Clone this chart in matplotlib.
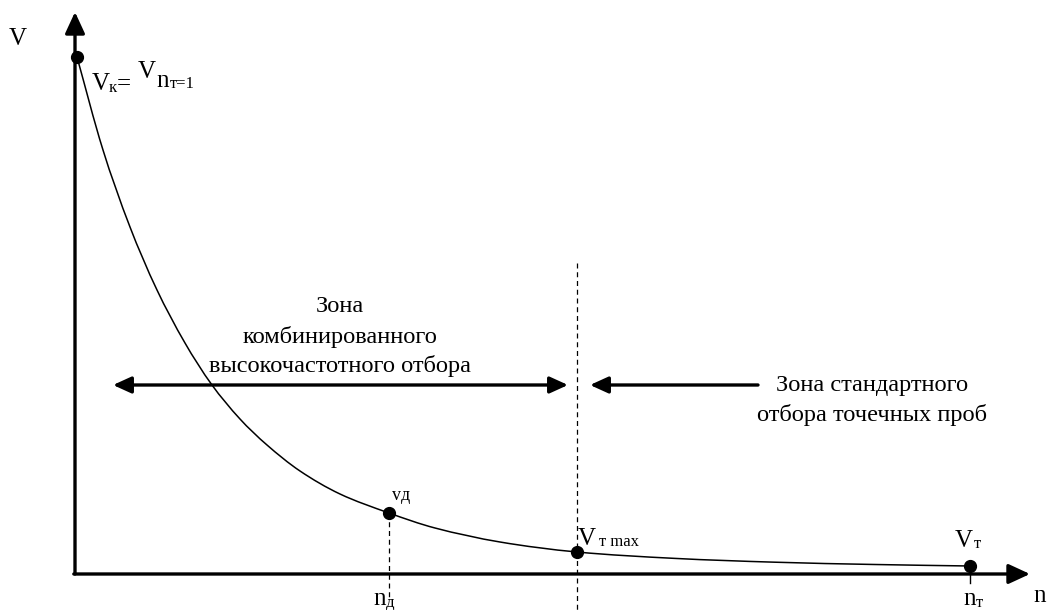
import matplotlib
matplotlib.use("Agg")
import matplotlib.pyplot as plt
from matplotlib.patches import FancyArrowPatch, PathPatch
from matplotlib.path import Path
import numpy as np

# ---- data (chart units: n along x, V along y) ----
curve_n = [2, 28, 55, 82, 110, 137, 165, 192, 225, 265, 314, 360, 425, 502, 600, 700, 800, 895]
curve_V = [517, 424, 347, 284, 231, 189, 155, 129, 103, 80, 61, 46, 32, 22, 15.6, 11.8, 9.5, 8]
point_n = [2, 314, 502, 895]
point_V = [517, 61, 22, 8]
n_d = 314      # n_д
n_tmax = 502   # boundary of zones
n_t = 895      # n_т

plt.rcParams['font.family'] = ['Liberation Serif', 'DejaVu Serif']

fig = plt.figure(figsize=(10.48, 6.10), dpi=100)
ax = fig.add_axes([0, 0, 1, 1])
ax.set_xlim(-75, 973)
ax.set_ylim(-36, 574)
ax.axis('off')

def P(x, y):
    return (x - 75, 574 - y)

# smooth curve through the read points (cubic Bezier segments)
pts = np.column_stack([curve_n, curve_V]).astype(float)
m = len(pts)
tang = []
for i in range(m):
    a = pts[max(i - 1, 0)]
    b = pts[min(i + 1, m - 1)]
    d = b - a
    tang.append(d / np.hypot(*d))
verts = [tuple(pts[0])]
codes = [Path.MOVETO]
for i in range(m - 1):
    p1, p2 = pts[i], pts[i + 1]
    L = np.hypot(*(p2 - p1)) / 3.0
    verts += [tuple(p1 + tang[i] * L), tuple(p2 - tang[i + 1] * L), tuple(p2)]
    codes += [Path.CURVE4] * 3
ax.add_patch(PathPatch(Path(verts, codes), fill=False, lw=1.1, color='black', zorder=3))

# axes with arrows
ax.add_patch(FancyArrowPatch((0, 0), (0, 562), arrowstyle='-|>,head_length=13,head_width=6',
                             mutation_scale=1, lw=2.4, color='black', shrinkA=0, shrinkB=0, zorder=4))
ax.add_patch(FancyArrowPatch((-1.2, 0), (955, 0), arrowstyle='-|>,head_length=13,head_width=6',
                             mutation_scale=1, lw=2.4, color='black', shrinkA=0, shrinkB=0, zorder=4))

# dashed guide lines
ax.plot([n_tmax, n_tmax], [311, -36], color='black', lw=0.9, dashes=(4, 3), zorder=2)
ax.plot([n_d, n_d], [point_V[1], -26], color='black', lw=0.9, dashes=(4, 3), zorder=2)
ax.plot([n_t, n_t], [0, -9], color='black', lw=1.0, zorder=2)

# points
ax.plot(point_n, point_V, 'o', color='black', markersize=8.5, zorder=5)

# zone arrows
ax.add_patch(FancyArrowPatch((38, 189), (493, 189), arrowstyle='<|-|>,head_length=11,head_width=5',
                             mutation_scale=1, lw=2.4, color='black', shrinkA=0, shrinkB=0, zorder=4))
ax.add_patch(FancyArrowPatch((683, 189), (515, 189), arrowstyle='-|>,head_length=11,head_width=5',
                             mutation_scale=1, lw=2.4, color='black', shrinkA=0, shrinkB=0, zorder=4))

fs = 18
fz = 17.6
# texts
ax.text(*P(9, 45), 'V', fontsize=fs, ha='left', va='baseline')
ax.text(*P(1033, 602), 'n', fontsize=fs, ha='left', va='baseline')

ax.text(*P(340, 306), 'Зона', fontsize=fz, ha='center', va='center')
ax.text(*P(340, 337), 'комбинированного', fontsize=fz, ha='center', va='center')
ax.text(*P(340, 366), 'высокочастотного отбора', fontsize=fz, ha='center', va='center')
ax.text(*P(872, 386), 'Зона стандартного', fontsize=fz, ha='center', va='center')
ax.text(*P(872, 415), 'отбора точечных проб', fontsize=fz, ha='center', va='center')

# V_k = V_{n_{т=1}}
ax.text(*P(92, 90), 'V', fontsize=fs, ha='left', va='baseline')
ax.text(*P(109, 92), 'к', fontsize=12, ha='left', va='baseline')
ax.text(*P(117, 90), '=', fontsize=fs, ha='left', va='baseline')
ax.text(*P(138, 78), 'V', fontsize=fs, ha='left', va='baseline')
ax.text(*P(156, 87), 'n', fontsize=fs, ha='left', va='baseline')
ax.text(*P(170, 88), 'т=1', fontsize=12, ha='left', va='baseline')

# V_д
ax.text(*P(392, 500), 'vд', fontsize=13, ha='left', va='baseline')
# V_т max
ax.text(*P(578, 545), 'V', fontsize=fs, ha='left', va='baseline')
ax.text(*P(599, 546), 'т max', fontsize=12, ha='left', va='baseline')
# V_т
ax.text(*P(955, 547), 'V', fontsize=fs, ha='left', va='baseline')
ax.text(*P(974, 548), 'т', fontsize=12, ha='left', va='baseline')

# n_д, n_т
ax.text(*P(373, 605), 'n', fontsize=fs, ha='left', va='baseline')
ax.text(*P(386, 607), 'д', fontsize=12, ha='left', va='baseline')
ax.text(*P(963, 605), 'n', fontsize=fs, ha='left', va='baseline')
ax.text(*P(976, 607), 'т', fontsize=12, ha='left', va='baseline')

fig.savefig('out.png', dpi=100)
